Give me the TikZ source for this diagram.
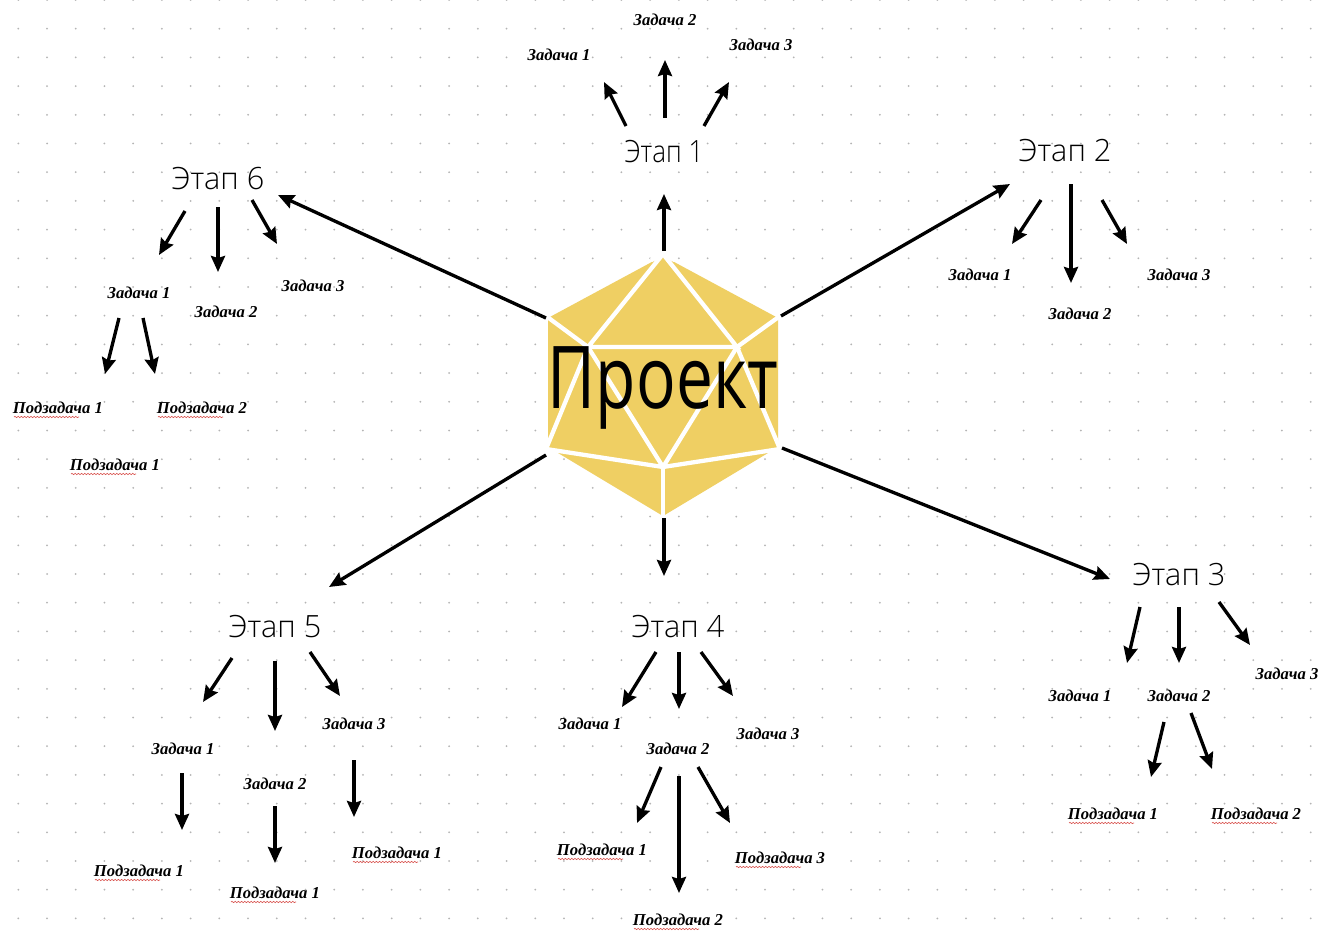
\documentclass[tikz,border=0pt]{standalone}
\usepackage{fontspec}
\setmainfont{Liberation Serif}
\newfontfamily\hand{Open Sans Light}
\newfontfamily\handb{Open Sans}
\usetikzlibrary{arrows.meta,decorations.pathmorphing}
\definecolor{die}{HTML}{EFCF63}
\definecolor{griddot}{HTML}{B4B4B4}
\definecolor{spell}{HTML}{D9534F}
\tikzset{
  x=0.75pt,y=-0.75pt,
  task/.style={inner sep=0pt,font=\fontsize{12.5}{14}\selectfont\bfseries\itshape,text=black},
  stage/.style={inner sep=0pt,font=\fontsize{23}{28}\selectfont\hand,text=black},
  core/.style={inner sep=0pt,xscale=0.76,font=\fontsize{65}{80}\selectfont\handb,text=black},
  arr/.style={-{Stealth[length=12pt,width=10.5pt,inset=1.5pt]},line width=2.5pt,black},
  facet/.style={white,line width=3.2pt,line cap=round},
  squig/.style={spell,line width=0.45pt,decorate,decoration={snake,amplitude=0.5pt,segment length=2.4pt}}
}
\newcommand{\conn}[6]{\draw[arr] ([shift={(#2,#3)}]#1.center) -- ([shift={(#5,#6)}]#4.center);}
\newcommand{\subt}[4]{\node[task] (#1) at (#2,#3) {#4};
  \draw[squig] ([shift={(-44,9)}]#1.center) -- ([shift={(21,9)}]#1.center);}
\begin{document}
\begin{tikzpicture}
\useasboundingbox (0,0) rectangle (1322,931);
\fill[white] (0,0) rectangle (1322,931);
\foreach \i in {0,...,45}{\foreach \j in {0,...,32}{
  \fill[griddot] ({18.3+28.72*\i},{0.0+28.7*\j}) circle (1);
}}
% die
\fill[die,rounded corners=1pt] (663,256) -- (778,318) -- (778,447) -- (663,516) -- (548,447) -- (548,318) -- cycle;
\coordinate (vt) at (663,254);
\coordinate (vul) at (546,316);
\coordinate (vur) at (780,316);
\coordinate (vll) at (546,449);
\coordinate (vlr) at (780,449);
\coordinate (vb) at (663,518);
\coordinate (va) at (588,347);
\coordinate (vc) at (737,347);
\coordinate (vd) at (663,467);
\draw[facet] (vt) -- (va) -- (vc) -- (vt);
\draw[facet] (va) -- (vd) -- (vc);
\draw[facet] (vul) -- (va) -- (vll) -- (vd) -- (vlr) -- (vc) -- (vur);
\draw[facet] (vd) -- (vb);
\draw[white,line width=3.5pt] (vt) -- ++(-12,6);
\draw[white,line width=3.5pt] (vt) -- ++(12,6);
\draw[white,line width=3.5pt] (vll) -- ++(14,9);
\draw[white,line width=3.5pt] (vlr) -- ++(-14,9);
\node[core] (proj) at (663,388) {Проект};
% stages
\node[stage,xscale=0.85] (s1) at (664,152) {Этап 1};
\node[stage] (s2) at (1065,151) {Этап 2};
\node[stage] (s3) at (1179,575) {Этап 3};
\node[stage] (s4) at (678,627) {Этап 4};
\node[stage] (s5) at (275,627) {Этап 5};
\node[stage] (s6) at (218,179) {Этап 6};
% tasks
\node[task] (t11) at (559,55) {Задача 1};
\node[task] (t12) at (665,20) {Задача 2};
\node[task] (t13) at (761,45) {Задача 3};
\node[task] (t21) at (980,275) {Задача 1};
\node[task] (t22) at (1080,314) {Задача 2};
\node[task] (t23) at (1179,275) {Задача 3};
\node[task] (t31) at (1080,696) {Задача 1};
\node[task] (t32) at (1179,696) {Задача 2};
\node[task] (t33) at (1287,674) {Задача 3};
\node[task] (t41) at (590,724) {Задача 1};
\node[task] (t42) at (678,749) {Задача 2};
\node[task] (t43) at (768,734) {Задача 3};
\node[task] (t51) at (183,749) {Задача 1};
\node[task] (t52) at (275,784) {Задача 2};
\node[task] (t53) at (354,724) {Задача 3};
\node[task] (t61) at (139,293) {Задача 1};
\node[task] (t62) at (226,312) {Задача 2};
\node[task] (t63) at (313,286) {Задача 3};
% subtasks
\subt{u321}{1113}{814}{Подзадача 1}
\subt{u322}{1256}{814}{Подзадача 2}
\subt{u421}{602}{850}{Подзадача 1}
\subt{u422}{678}{920}{Подзадача 2}
\subt{u423}{780}{858}{Подзадача 3}
\subt{u511}{139}{871}{Подзадача 1}
\subt{u521}{275}{893}{Подзадача 1}
\subt{u531}{397}{853}{Подзадача 1}
\subt{u611}{58}{408}{Подзадача 1}
\subt{u612}{202}{408}{Подзадача 2}
\subt{u613}{115}{465}{Подзадача 1}
% connectors
\conn{proj}{1}{-137}{s1}{0}{42}
\conn{proj}{118}{-72}{s2}{-55}{33}
\conn{proj}{119}{60}{s3}{-69}{4}
\conn{proj}{1}{130}{s4}{-14}{-51}
\conn{proj}{-117}{67}{s5}{54}{-40}
\conn{proj}{-117}{-70}{s6}{60}{16}
\conn{s1}{-38}{-26}{t11}{45}{27}
\conn{s1}{1}{-34}{t12}{0}{40}
\conn{s1}{40}{-26}{t13}{-32}{37}
\conn{s2}{-24}{49}{t21}{32}{-31}
\conn{s2}{6}{33}{t22}{-9}{-31}
\conn{s2}{37}{49}{t23}{-52}{-31}
\conn{s3}{-39}{32}{t31}{47}{-33}
\conn{s3}{0}{32}{t32}{0}{-33}
\conn{s3}{40}{27}{t33}{-37}{-29}
\conn{t32}{-15}{26}{u321}{38}{-37}
\conn{t32}{12}{17}{u322}{-44}{-45}
\conn{s4}{-22}{25}{t41}{32}{-17}
\conn{s4}{1}{25}{t42}{1}{-40}
\conn{s4}{23}{25}{t43}{-35}{-38}
\conn{t42}{-17}{18}{u421}{35}{-27}
\conn{t42}{1}{27}{u422}{1}{-27}
\conn{t42}{20}{18}{u423}{-50}{-35}
\conn{s5}{-43}{31}{t51}{20}{-47}
\conn{s5}{0}{34}{t52}{0}{-53}
\conn{s5}{35}{25}{t53}{-14}{-28}
\conn{t51}{-1}{24}{u511}{43}{-41}
\conn{t52}{0}{22}{u521}{0}{-30}
\conn{t53}{0}{36}{u531}{-43}{-36}
\conn{s6}{-33}{32}{t61}{20}{-38}
\conn{s6}{0}{28}{t62}{-8}{-40}
\conn{s6}{34}{21}{t63}{-36}{-42}
\conn{t61}{-20}{25}{u611}{47}{-34}
\conn{t61}{4}{25}{u612}{-47}{-34}
\end{tikzpicture}
\end{document}
